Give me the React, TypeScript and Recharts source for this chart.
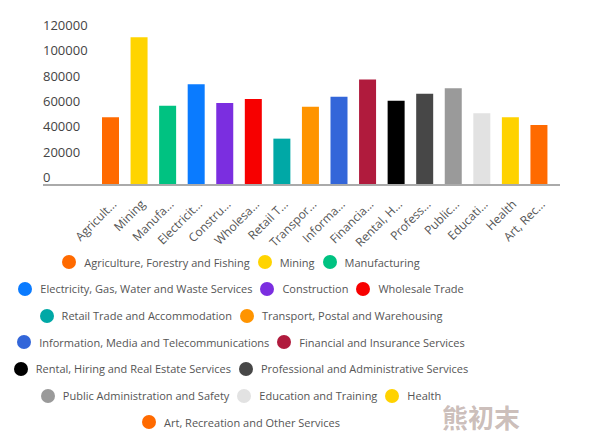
import { BarChart, Bar, Cell, XAxis, YAxis, Legend } from 'recharts';

const industries = [
  'Agriculture, Forestry and Fishing',
  'Mining',
  'Manufacturing',
  'Electricity, Gas, Water and Waste Services',
  'Construction',
  'Wholesale Trade',
  'Retail Trade and Accommodation',
  'Transport, Postal and Warehousing',
  'Information, Media and Telecommunications',
  'Financial and Insurance Services',
  'Rental, Hiring and Real Estate Services',
  'Professional and Administrative Services',
  'Public Administration and Safety',
  'Education and Training',
  'Health',
  'Art, Recreation and Other Services',
];

const tickLabels = [
  'Agricult...',
  'Mining',
  'Manufa...',
  'Electricit...',
  'Constru...',
  'Wholesa...',
  'Retail T...',
  'Transpor...',
  'Informa...',
  'Financia...',
  'Rental, H...',
  'Profess...',
  'Public...',
  'Educati...',
  'Health',
  'Art, Rec...',
];

const salaries = [
  53400, 116600, 62600, 79500, 64700, 67900, 36600, 61800,
  69700, 83200, 66600, 72100, 76300, 56600, 53400, 47400,
];

const colors = [
  '#ff6a00', '#ffd400', '#00c281', '#0a7bff', '#7b2ee0', '#f70000', '#00a8a6', '#ff9400',
  '#3366d9', '#b01b3d', '#000000', '#474747', '#9a9a9a', '#e2e2e2', '#ffd200', '#ff6a00',
];

const yTicks = [0, 20000, 40000, 60000, 80000, 100000, 120000];

const data = industries.map((name, i) => ({
  name,
  label: tickLabels[i],
  value: salaries[i],
  color: colors[i],
}));

const FONT = '"Open Sans", sans-serif';

function YTick({ y, payload }: any) {
  return (
    <text x={43} y={y - 3} fill="#444" fontSize={13} fontFamily={FONT} textAnchor="start">
      {payload.value}
    </text>
  );
}

function XTick({ x, y, payload, index }: any) {
  const tx = x + 7;
  const ty = y + 12;
  return (
    <text
      x={tx}
      y={ty}
      fill="#555"
      fontSize={12}
      fontFamily={FONT}
      textAnchor="end"
      transform={`rotate(-45, ${tx}, ${ty})`}
    >
      {tickLabels[index] ?? payload.value}
    </text>
  );
}

function LegendContent() {
  return (
    <div
      style={{
        width: 470,
        display: 'flex',
        flexWrap: 'wrap',
        justifyContent: 'center',
        fontFamily: FONT,
        fontSize: 11,
        color: '#555',
      }}
    >
      {data.map((d) => (
        <div
          key={d.name}
          style={{ display: 'flex', alignItems: 'center', height: 26.67, margin: '0 4px' }}
        >
          <svg width={14} height={14} style={{ marginRight: 8 }}>
            <circle cx={7} cy={7} r={7} fill={d.color} />
          </svg>
          <span>{d.name}</span>
        </div>
      ))}
    </div>
  );
}

export default function App() {
  return (
    <div style={{ position: 'relative', width: 594, height: 440, margin: -8, background: '#fff' }}>
      <BarChart
        width={594}
        height={440}
        data={data}
        margin={{ top: 33, right: 34, left: 42, bottom: 0 }}
      >
        <XAxis
          dataKey="name"
          interval={0}
          height={255}
          padding={{ left: 53, right: 7 }}
          tickLine={false}
          axisLine={{ stroke: '#aaa', strokeWidth: 2 }}
          tick={<XTick />}
        />
        <YAxis
          width={1}
          domain={[0, 120000]}
          ticks={yTicks}
          interval={0}
          axisLine={false}
          tickLine={false}
          tick={<YTick />}
        />
        <Legend
          layout="horizontal"
          verticalAlign="middle"
          align="center"
          content={<LegendContent />}
          wrapperStyle={{ left: 6, top: 249, width: 470, height: 'auto' }}
        />
        <Bar dataKey="value" barSize={17} isAnimationActive={false}>
          {data.map((d) => (
            <Cell key={d.name} fill={d.color} />
          ))}
        </Bar>
      </BarChart>
      <div
        style={{
          position: 'absolute',
          left: 442,
          top: 398,
          fontFamily: '"Noto Sans CJK SC", sans-serif',
          fontWeight: 700,
          fontSize: 26,
          color: 'rgba(140, 110, 100, 0.45)',
          pointerEvents: 'none',
        }}
      >
        熊初末
      </div>
    </div>
  );
}
